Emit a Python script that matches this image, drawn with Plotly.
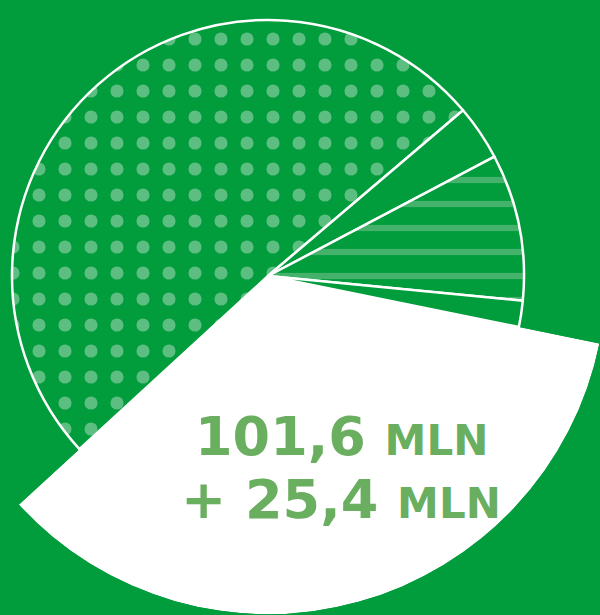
import numpy as np
import plotly.graph_objects as go

# ---- data (values in mln) ----
categories = ["wyróżnione", "pozostałe", "kategoria A", "kategoria B", "kategoria C"]
values = [127.0, 183.7, 12.7, 33.6, 6.0]
slice_patterns = ["", ".", "", "-", ""]
label_main = "101,6"
label_extra = "+ 25,4"
unit = "MLN"

# ---- style / layout constants ----
W, H = 600, 615
BG = "#019c3b"
BLOB = "#5cbe80"
WAVE = "#45b26c"
TEXT = "#6aae5f"
start_angle = 101.5        # first slice start, degrees clockwise from 12 o'clock
cx, cy, R = 268.0, 276.0, 256.0   # pie centre / radius in px
R_big_target = 341.0              # radius of the highlighted slice in px

slice_colors = [("white" if i == 0 else BG) for i in range(len(values))]
pattern_fg = [("white" if s == "" else (BLOB if s == "." else WAVE)) for s in slice_patterns]
pattern_size = [26 if s == "." else 24 for s in slice_patterns]
pattern_sol = [0.2 if s == "." else 0.26 for s in slice_patterns]

fig = go.Figure()

# ---- enlarged highlighted slice (polar sector, underneath the pie) ----
total = float(sum(values))
widths = [v / total * 360.0 for v in values]
theta0 = start_angle
theta1 = start_angle + widths[0]
theta_mid = (theta0 + theta1) / 2.0
a0 = 90.0 - theta1            # screen angles (ccw from east)
a1 = 90.0 - theta0
sector = [a0 % 360.0, a0 % 360.0 + (a1 - a0)]
arc = np.deg2rad(np.linspace(sector[0], sector[1], 2001))
xs = np.append(np.cos(arc), 0.0)
ys = np.append(np.sin(arc), 0.0)
bx0, bx1, by0, by1 = xs.min(), xs.max(), ys.min(), ys.max()
R_big = min(R_big_target,
            (W - cx) / bx1 if bx1 > 0 else 1e9,
            cx / -bx0 if bx0 < 0 else 1e9,
            (H - cy) / -by0 if by0 < 0 else 1e9,
            cy / by1 if by1 > 0 else 1e9) - 0.6
left = cx + R_big * bx0
right = cx + R_big * bx1
top = cy - R_big * by1
bottom = cy - R_big * by0

fig.add_trace(go.Barpolar(
    r=[1.0], theta=[theta_mid], width=[widths[0]],
    marker=dict(color="white", line=dict(width=0)),
    hoverinfo="skip", showlegend=False, subplot="polar",
))

# ---- the pie ----
fig.add_trace(go.Pie(
    labels=categories, values=values, sort=False, direction="clockwise",
    rotation=start_angle, textinfo="none", hoverinfo="label+value",
    showlegend=False,
    marker=dict(
        colors=slice_colors,
        line=dict(color="white", width=2.5),
        pattern=dict(shape=slice_patterns, fgcolor=pattern_fg, bgcolor=slice_colors,
                     size=pattern_size, solidity=pattern_sol, fillmode="replace"),
    ),
    domain=dict(x=[(cx - R) / W, (cx + R) / W],
                y=[1 - (cy + R) / H, 1 - (cy - R) / H]),
))

fig.update_layout(
    width=W, height=H, margin=dict(l=0, r=0, t=0, b=0),
    paper_bgcolor=BG, plot_bgcolor=BG,
    polar=dict(
        domain=dict(x=[max(0, left / W), min(1, right / W)],
                    y=[max(0, 1 - bottom / H), min(1, 1 - top / H)]),
        sector=sector, hole=0, bgcolor="rgba(0,0,0,0)",
        radialaxis=dict(visible=False, range=[0, 1]),
        angularaxis=dict(visible=False, rotation=90, direction="clockwise"),
    ),
)

font = dict(family="DejaVu Sans", size=54, color=TEXT)
fig.add_annotation(
    x=342 / W, y=1 - 436 / H, xref="paper", yref="paper",
    xanchor="center", yanchor="middle", showarrow=False,
    text=f"<b>{label_main} <span style='font-size:42px'>{unit}</span></b>", font=font,
)
fig.add_annotation(
    x=341 / W, y=1 - 499 / H, xref="paper", yref="paper",
    xanchor="center", yanchor="middle", showarrow=False,
    text=f"<b>{label_extra} <span style='font-size:42px'>{unit}</span></b>", font=font,
)

fig.write_html(
    "out.html",
    config={"displayModeBar": False},
    post_script="document.body.style.margin='0';document.body.style.overflow='hidden';",
)
